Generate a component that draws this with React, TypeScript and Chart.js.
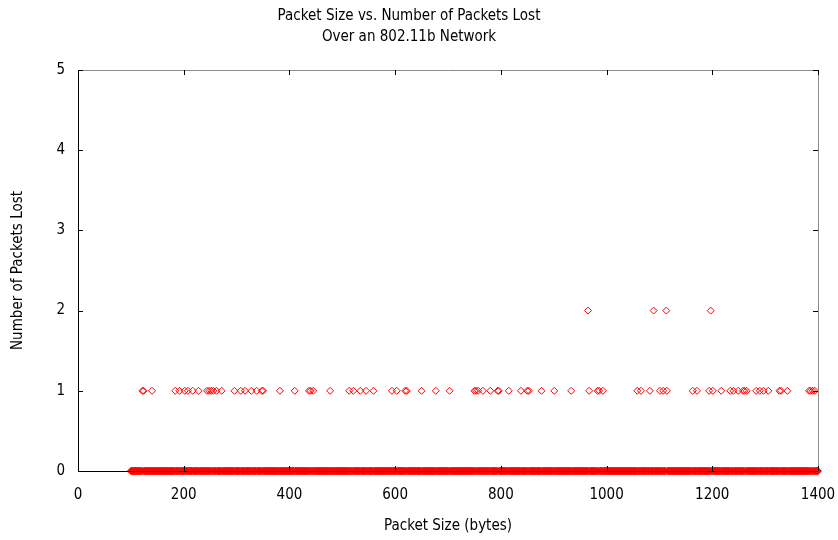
import { useEffect, useRef } from 'react';
import { Chart, registerables } from 'chart.js';

Chart.register(...registerables);

const TITLE_LINES = ['Packet Size vs. Number of Packets Lost', 'Over an 802.11b Network'];
const X_TITLE = 'Packet Size (bytes)';
const Y_TITLE = 'Number of Packets Lost';
const X_TICKS = [0, 200, 400, 600, 800, 1000, 1200, 1400];
const Y_TICKS = [0, 1, 2, 3, 4, 5];

// every packet size from the first to the last was sent, one byte apart
const SIZE_FIRST = 100;
const SIZE_LAST = 1400;

// sizes at which one packet was lost
const LOST_ONE = [
  122, 124, 140, 184, 192, 202, 208, 217, 228, 244, 248, 252, 256, 262, 272,
  296, 308, 316, 328, 338, 348, 350, 382, 410, 437, 440, 445, 477, 513, 521,
  534, 545, 559, 594, 603, 619, 622, 650, 677, 703, 750, 753, 757, 766, 780,
  794, 796, 815, 838, 850, 853, 877, 901, 933, 967, 983, 986, 993, 1058, 1065,
  1082, 1101, 1107, 1114, 1163, 1171, 1194, 1201, 1217, 1234, 1240, 1249, 1258,
  1261, 1265, 1283, 1290, 1297, 1306, 1327, 1330, 1342, 1383, 1386, 1390, 1394,
];

// sizes at which two packets were lost
const LOST_TWO = [965, 1089, 1113, 1197];

const FONT = "'Liberation Sans Narrow', 'DejaVu Sans Condensed', 'Arial Narrow', sans-serif";

export default function App() {
  const ref = useRef<HTMLCanvasElement | null>(null);

  useEffect(() => {
    if (!ref.current) return;
    const lossy = new Set([...LOST_ONE, ...LOST_TWO]);
    const zeroPts: { x: number; y: number }[] = [];
    for (let s = SIZE_FIRST; s <= SIZE_LAST; s++) {
      if (!lossy.has(s)) zeroPts.push({ x: s, y: 0 });
    }
    const onePts = LOST_ONE.map((x) => ({ x, y: 1 }));
    const twoPts = LOST_TWO.map((x) => ({ x, y: 2 }));
    const allPts = [...zeroPts, ...onePts, ...twoPts];

    const frame = {
      id: 'frame',
      afterDatasetsDraw(chart: any) {
        const { ctx, chartArea: a, scales } = chart;
        ctx.save();
        ctx.lineWidth = 1;
        ctx.strokeStyle = '#8c8c8c';
        ctx.beginPath();
        ctx.moveTo(a.left, a.top + 0.5);
        ctx.lineTo(a.right + 0.5, a.top + 0.5);
        ctx.lineTo(a.right + 0.5, a.bottom);
        ctx.stroke();
        ctx.strokeStyle = '#000';
        ctx.beginPath();
        ctx.moveTo(a.left + 0.5, a.top);
        ctx.lineTo(a.left + 0.5, a.bottom + 0.5);
        ctx.lineTo(a.right, a.bottom + 0.5);
        ctx.stroke();
        ctx.strokeStyle = '#000';
        ctx.beginPath();
        for (const v of Y_TICKS) {
          const y = Math.round(scales.y.getPixelForValue(v)) + 0.5;
          ctx.moveTo(a.left, y);
          ctx.lineTo(a.left + 5, y);
          ctx.moveTo(a.right, y);
          ctx.lineTo(a.right - 5, y);
        }
        for (const v of X_TICKS) {
          const x = Math.round(scales.x.getPixelForValue(v)) + 0.5;
          ctx.moveTo(x, a.bottom);
          ctx.lineTo(x, a.bottom - 5);
          ctx.moveTo(x, a.top);
          ctx.lineTo(x, a.top + 5);
        }
        ctx.stroke();
        ctx.restore();
      },
    };

    const chart = new Chart(ref.current, {
      type: 'scatter',
      data: {
        datasets: [
          {
            data: allPts,
            pointStyle: 'rectRot',
            pointRadius: 3.5,
            pointHoverRadius: 3.5,
            borderColor: '#ff0000',
            backgroundColor: 'rgba(0,0,0,0)',
            pointBorderWidth: 1,
            clip: false as any,
          },
        ],
      },
      options: {
        animation: false,
        responsive: false,
        layout: { padding: { left: 0, right: 20, top: 0, bottom: 0 } },
        plugins: {
          legend: { display: false },
          tooltip: { enabled: false },
          title: {
            display: true,
            text: TITLE_LINES,
            color: '#000',
            font: { family: FONT, size: 15, weight: 'normal', lineHeight: 1.4 },
            padding: { top: 6, bottom: 22 },
          },
        },
        scales: {
          x: {
            type: 'linear',
            min: 0,
            max: 1400,
            afterFit: (s: any) => {
              s.height = 69;
              s.paddingRight = 0;
              s.paddingLeft = 0;
            },
            afterBuildTicks: (s: any) => {
              s.ticks = X_TICKS.map((value) => ({ value }));
            },
            grid: { display: false, drawTicks: false },
            border: { display: false },
            ticks: {
              color: '#000',
              font: { family: FONT, size: 15 },
              padding: 15,
              maxRotation: 0,
              autoSkip: false,
              callback: (v: any) => String(v),
            },
            title: {
              display: true,
              text: X_TITLE,
              color: '#000',
              font: { family: FONT, size: 15 },
              padding: { top: 10, bottom: 5 },
            },
          },
          y: {
            type: 'linear',
            min: 0,
            max: 5,
            afterFit: (s: any) => {
              s.width = 78;
            },
            afterBuildTicks: (s: any) => {
              s.ticks = Y_TICKS.map((value) => ({ value }));
            },
            grid: { display: false, drawTicks: false },
            border: { display: false },
            ticks: {
              color: '#000',
              font: { family: FONT, size: 15 },
              padding: 13,
              autoSkip: false,
              callback: (v: any) => String(v),
            },
            title: {
              display: true,
              text: Y_TITLE,
              color: '#000',
              font: { family: FONT, size: 15 },
              padding: { top: 9, bottom: 0 },
            },
          },
        },
      },
      plugins: [frame],
    });
    return () => chart.destroy();
  }, []);

  return (
    <div style={{ position: 'absolute', left: 0, top: 0, width: 838, height: 540, background: '#fff' }}>
      <canvas ref={ref} width={838} height={540} style={{ display: 'block' }} />
    </div>
  );
}
